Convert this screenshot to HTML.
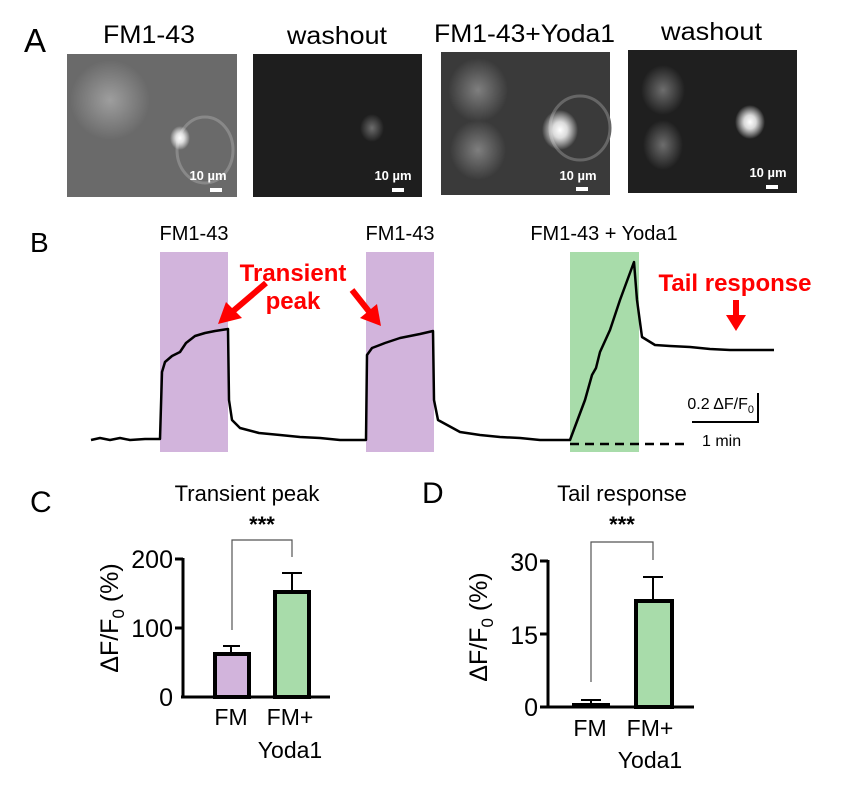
<!DOCTYPE html>
<html><head><style>
body{margin:0;background:#fff;width:850px;height:789px;overflow:hidden;}
svg text{font-family:"Liberation Sans",sans-serif;}
</style></head><body>
<svg width="850" height="789" viewBox="0 0 850 789" xmlns="http://www.w3.org/2000/svg">
<defs>
<radialGradient id="sp" cx="50%" cy="50%" r="50%"><stop offset="0" stop-color="#fff"/><stop offset="0.4" stop-color="#eee" stop-opacity="0.9"/><stop offset="1" stop-color="#fff" stop-opacity="0"/></radialGradient>
<radialGradient id="cell" cx="50%" cy="50%" r="50%"><stop offset="0" stop-color="#fff" stop-opacity="0.35"/><stop offset="1" stop-color="#fff" stop-opacity="0"/></radialGradient>
</defs>
<!-- Panel A -->
<text x="24" y="52" font-size="33" textLength="22" lengthAdjust="spacingAndGlyphs">A</text>
<text x="103" y="43" font-size="25" textLength="92" lengthAdjust="spacingAndGlyphs">FM1-43</text>
<text x="287" y="44" font-size="25" textLength="100" lengthAdjust="spacingAndGlyphs">washout</text>
<text x="434" y="42" font-size="25" textLength="181" lengthAdjust="spacingAndGlyphs">FM1-43+Yoda1</text>
<text x="661" y="40" font-size="25" textLength="101" lengthAdjust="spacingAndGlyphs">washout</text>

<rect x="67" y="54" width="170" height="143" fill="#6a6a6a"/>
<ellipse cx="205" cy="150" rx="28" ry="33" fill="none" stroke="#888" stroke-width="3"/>
<ellipse cx="110" cy="100" rx="40" ry="40" fill="url(#cell)"/>
<ellipse cx="180" cy="138" rx="10" ry="12" fill="url(#sp)"/>
<text x="208" y="180" font-size="13" font-weight="bold" fill="#fff" text-anchor="middle">10 µm</text>
<rect x="210" y="188" width="12" height="4" fill="#fff"/>

<rect x="253" y="54" width="169" height="143" fill="#1e1e1e"/>
<ellipse cx="372" cy="128" rx="12" ry="14" fill="url(#cell)"/>
<text x="393" y="180" font-size="13" font-weight="bold" fill="#fff" text-anchor="middle">10 µm</text>
<rect x="392" y="188" width="12" height="4" fill="#fff"/>

<rect x="441" y="52" width="169" height="143" fill="#3a3a3a"/>
<ellipse cx="478" cy="90" rx="30" ry="32" fill="url(#cell)"/>
<ellipse cx="478" cy="150" rx="28" ry="30" fill="url(#cell)"/>
<ellipse cx="580" cy="128" rx="30" ry="32" fill="none" stroke="#666" stroke-width="3"/>
<ellipse cx="560" cy="130" rx="18" ry="20" fill="url(#sp)"/>
<text x="578" y="180" font-size="13" font-weight="bold" fill="#fff" text-anchor="middle">10 µm</text>
<rect x="576" y="187" width="12" height="4" fill="#fff"/>

<rect x="628" y="50" width="169" height="143" fill="#1f1f1f"/>
<ellipse cx="663" cy="90" rx="22" ry="25" fill="url(#cell)"/>
<ellipse cx="663" cy="145" rx="20" ry="25" fill="url(#cell)"/>
<ellipse cx="750" cy="122" rx="15" ry="17" fill="url(#sp)"/>
<text x="768" y="177" font-size="13" font-weight="bold" fill="#fff" text-anchor="middle">10 µm</text>
<rect x="766" y="185" width="12" height="4" fill="#fff"/>

<!-- Panel B -->
<text x="30" y="252" font-size="28">B</text>
<text x="194" y="240" font-size="20" text-anchor="middle">FM1-43</text>
<text x="400" y="240" font-size="20" text-anchor="middle">FM1-43</text>
<text x="604" y="240" font-size="20" text-anchor="middle">FM1-43 + Yoda1</text>
<rect x="160" y="252" width="68" height="200" fill="#d2b4dc"/>
<rect x="366" y="252" width="68" height="200" fill="#d2b4dc"/>
<rect x="570" y="252" width="69" height="200" fill="#a8dcaa"/>
<polyline fill="none" stroke="#000" stroke-width="2.5" stroke-linejoin="round" points="91,440 100,438 110,440 120,438 130,440 145,439 160,439 162,372 165,362 172,356 180,352 186,343 195,336 205,333 215,331 228,329 229,400 232,420 240,428 259,433 280,435 300,437 320,438 340,440 366,440 367,355 372,348 385,343 400,338 420,334 433,331 434,400 438,420 460,432 480,435 500,437 520,438 540,440 570,440 585,400 592,375 596,368 600,352 610,330 620,300 634,262 637,300 642,337 655,345 670,346 690,347 710,349 730,350 774,350"/>
<line x1="570" y1="444" x2="690" y2="444" stroke="#000" stroke-width="2.5" stroke-dasharray="9,6"/>
<text x="702" y="446" font-size="16">1 min</text>
<line x1="692" y1="422" x2="759" y2="422" stroke="#000" stroke-width="2"/>
<line x1="758" y1="393" x2="758" y2="423" stroke="#000" stroke-width="2"/>
<text x="754" y="409" font-size="16" text-anchor="end">0.2 ΔF/F<tspan font-size="11" dy="4">0</tspan></text>
<text x="293" y="281" font-size="24" font-weight="bold" fill="#f00" text-anchor="middle">Transient</text>
<text x="293" y="309" font-size="24" font-weight="bold" fill="#f00" text-anchor="middle">peak</text>
<text x="735" y="291" font-size="24" font-weight="bold" fill="#f00" text-anchor="middle">Tail response</text>
<g fill="#f00" stroke="#f00">
<line x1="266" y1="283" x2="232" y2="312" stroke-width="6"/>
<polygon points="218,324 226,302 242,318" stroke="none"/>
<line x1="352" y1="290" x2="371" y2="314" stroke-width="6"/>
<polygon points="381,326 360,318 377,304" stroke="none"/>
<line x1="736" y1="300" x2="736" y2="318" stroke-width="6"/>
<polygon points="736,331 726,315 746,315" stroke="none"/>
</g>

<!-- Panel C -->
<text x="30" y="512" font-size="30">C</text>
<text x="247" y="501" font-size="22" text-anchor="middle">Transient peak</text>
<text x="262" y="532" font-size="22" font-weight="bold" text-anchor="middle">***</text>
<polyline fill="none" stroke="#555" stroke-width="1.2" points="232,630 232,540 292,540 292,557"/>
<line x1="183" y1="558" x2="183" y2="698" stroke="#000" stroke-width="3"/>
<line x1="181" y1="697" x2="330" y2="697" stroke="#000" stroke-width="3"/>
<line x1="175" y1="559" x2="183" y2="559" stroke="#000" stroke-width="3"/>
<line x1="175" y1="628" x2="183" y2="628" stroke="#000" stroke-width="3"/>
<text x="173" y="568" font-size="25" text-anchor="end">200</text>
<text x="173" y="637" font-size="25" text-anchor="end">100</text>
<text x="173" y="706" font-size="25" text-anchor="end">0</text>
<line x1="231" y1="646" x2="231" y2="653" stroke="#000" stroke-width="2"/>
<line x1="223" y1="646" x2="240" y2="646" stroke="#000" stroke-width="2"/>
<rect x="215" y="654" width="34" height="43" fill="#d2b4dc" stroke="#000" stroke-width="4"/>
<line x1="292" y1="573" x2="292" y2="592" stroke="#000" stroke-width="2"/>
<line x1="282" y1="573" x2="302" y2="573" stroke="#000" stroke-width="2"/>
<rect x="275" y="592" width="34" height="105" fill="#a8dcaa" stroke="#000" stroke-width="4"/>
<text x="231" y="725" font-size="23" text-anchor="middle">FM</text>
<text x="290" y="725" font-size="23" text-anchor="middle">FM+</text>
<text x="290" y="758" font-size="23" text-anchor="middle">Yoda1</text>
<text transform="translate(118,618) rotate(-90)" font-size="25" text-anchor="middle">ΔF/F<tspan font-size="17" dy="6">0</tspan><tspan dy="-6"> (%)</tspan></text>

<!-- Panel D -->
<text x="422" y="503" font-size="30">D</text>
<text x="622" y="501" font-size="22" text-anchor="middle">Tail response</text>
<text x="622" y="532" font-size="22" font-weight="bold" text-anchor="middle">***</text>
<polyline fill="none" stroke="#555" stroke-width="1.2" points="591,682 591,542 653,542 653,560"/>
<line x1="548" y1="560" x2="548" y2="708" stroke="#000" stroke-width="3"/>
<line x1="540" y1="707" x2="694" y2="707" stroke="#000" stroke-width="3"/>
<line x1="540" y1="561" x2="548" y2="561" stroke="#000" stroke-width="3"/>
<line x1="540" y1="634" x2="548" y2="634" stroke="#000" stroke-width="3"/>
<text x="538" y="571" font-size="25" text-anchor="end">30</text>
<text x="538" y="644" font-size="25" text-anchor="end">15</text>
<text x="538" y="716" font-size="25" text-anchor="end">0</text>
<line x1="581" y1="700" x2="601" y2="700" stroke="#000" stroke-width="2"/>
<line x1="591" y1="700" x2="591" y2="704" stroke="#000" stroke-width="2"/>
<rect x="572" y="703" width="38" height="4" fill="#000"/>
<line x1="653" y1="577" x2="653" y2="600" stroke="#000" stroke-width="2"/>
<line x1="643" y1="577" x2="663" y2="577" stroke="#000" stroke-width="2"/>
<rect x="636" y="601" width="36" height="106" fill="#a8dcaa" stroke="#000" stroke-width="4"/>
<text x="590" y="736" font-size="23" text-anchor="middle">FM</text>
<text x="650" y="736" font-size="23" text-anchor="middle">FM+</text>
<text x="650" y="768" font-size="23" text-anchor="middle">Yoda1</text>
<text transform="translate(487,627) rotate(-90)" font-size="25" text-anchor="middle">ΔF/F<tspan font-size="17" dy="6">0</tspan><tspan dy="-6"> (%)</tspan></text>
</svg>
</body></html>
